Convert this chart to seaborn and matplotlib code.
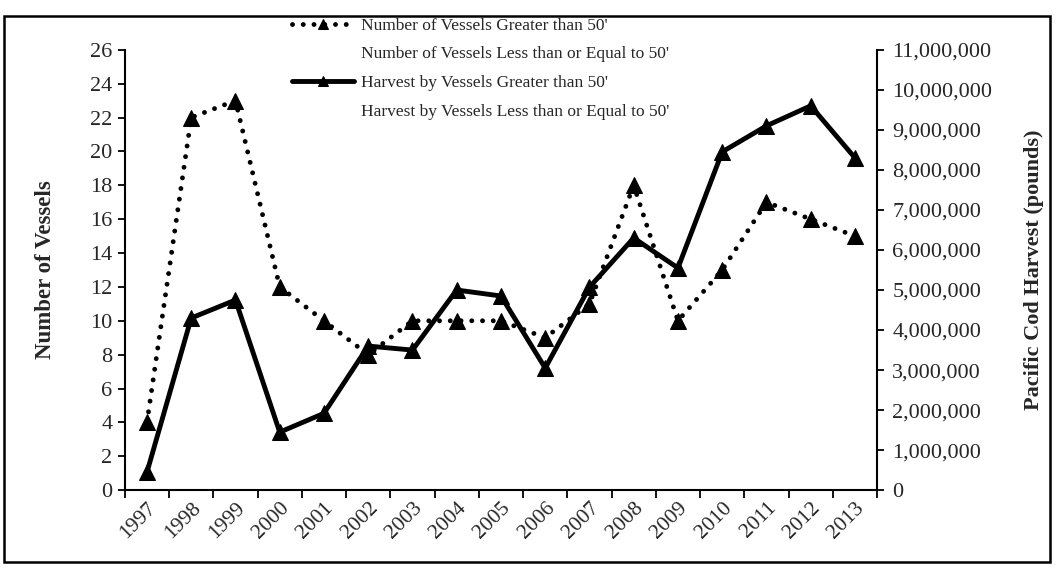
import numpy as np
import pandas as pd
import matplotlib
matplotlib.use("Agg")
import matplotlib.pyplot as plt
import seaborn as sns
from matplotlib.lines import Line2D
from matplotlib.patches import Rectangle
from matplotlib.ticker import FuncFormatter

# data
years = ["1997", "1998", "1999", "2000", "2001", "2002", "2003", "2004", "2005",
         "2006", "2007", "2008", "2009", "2010", "2011", "2012", "2013"]
vessels_gt50 = [4, 22, 23, 12, 10, 8, 10, 10, 10, 9, 11, 18, 10, 13, 17, 16, 15]
harvest_gt50 = [450000, 4300000, 4750000, 1450000, 1920000, 3600000, 3500000,
                5000000, 4850000, 3050000, 5070000, 6300000, 5550000, 8450000,
                9100000, 9600000, 8300000]
vessel_ticks = [0, 2, 4, 6, 8, 10, 12, 14, 16, 18, 20, 22, 24, 26]
harvest_ticks = [0, 1e6, 2e6, 3e6, 4e6, 5e6, 6e6, 7e6, 8e6, 9e6, 10e6, 11e6]
legend_labels = ["Number of Vessels Greater than 50'",
                 "Number of Vessels Less than or Equal to 50'",
                 "Harvest by Vessels Greater than 50'",
                 "Harvest by Vessels Less than or Equal to 50'"]

df = pd.DataFrame({"pos": np.arange(len(years)), "year": years,
                   "vessels": vessels_gt50, "harvest": harvest_gt50})

sns.set_style("ticks")
plt.rcParams["font.family"] = ["Liberation Serif", "DejaVu Serif"]

fig = plt.figure(figsize=(10.58, 5.72), dpi=100)
ax = fig.add_axes([0.118, 0.143, 0.711, 0.770])
ax2 = ax.twinx()

dotted = (0, (0.01, 2.2))
sns.lineplot(data=df, x="pos", y="vessels", ax=ax, color="black", lw=3.5,
             linestyle=dotted, dash_capstyle="round", marker="^", markersize=11,
             markeredgecolor="black", label=legend_labels[0], legend=False)
sns.lineplot(data=df, x="pos", y="harvest", ax=ax2, color="black", lw=3.5,
             marker="^", markersize=11, markeredgecolor="black",
             label=legend_labels[2], legend=False)

ax.set_xlim(-0.5, len(years) - 0.5)
ax.set_ylim(0, 26)
ax2.set_ylim(0, 11e6)
ax.set_yticks(vessel_ticks)
ax2.set_yticks(harvest_ticks)
ax2.yaxis.set_major_formatter(FuncFormatter(lambda v, p: f"{v:,.0f}"))

ax.set_xticks(df["pos"])
ax.set_xticklabels(years, rotation=45, ha="right", va="top", rotation_mode="anchor")
ax.set_xticks(np.arange(-0.5, len(years), 1), minor=True)
ax.tick_params(axis="x", which="major", length=0, pad=6, labelsize=15.5)
ax.tick_params(axis="x", which="minor", length=6, width=1.3, direction="out", color="black")
ax.tick_params(axis="y", length=5, width=1.3, direction="out", labelsize=16, color="black", pad=4)
ax2.tick_params(axis="y", length=5, width=1.3, direction="out", labelsize=16, color="black", pad=6)
ax.set_xlabel("")

for s in ["top", "right"]:
    ax.spines[s].set_visible(False)
for s in ["top", "left", "bottom"]:
    ax2.spines[s].set_visible(False)
for sp in [ax.spines["left"], ax.spines["bottom"], ax2.spines["right"]]:
    sp.set_color("black")
    sp.set_linewidth(1.5)

ax.set_ylabel("Number of Vessels", fontsize=16.5, fontweight="bold")
ax.yaxis.set_label_coords(-0.092, 0.5)
ax2.set_ylabel("Pacific Cod Harvest (pounds)", fontsize=16, fontweight="bold",
               rotation=90)
ax2.yaxis.set_label_coords(1.195, 0.5)

# legend: the <=50' series carry no visible mark
h_dot, h_solid = ax.get_lines()[0], ax2.get_lines()[0]
blank = Line2D([], [], color="none")
fig.legend([h_dot, blank, h_solid, blank], legend_labels, loc="upper left",
           bbox_to_anchor=(276 / 1058, 1 - 2 / 572), frameon=False, fontsize=12.5,
           handlelength=3.6, handletextpad=0.4, labelspacing=0.72, markerscale=0.6)

# outer frame around the whole chart
fig.add_artist(Rectangle((4 / 1058, 1 - 562 / 572), 1046 / 1058, 546 / 572,
                         transform=fig.transFigure, fill=False, lw=1.8, ec="black"))

fig.savefig("out.png", dpi=100)
plt.close(fig)
